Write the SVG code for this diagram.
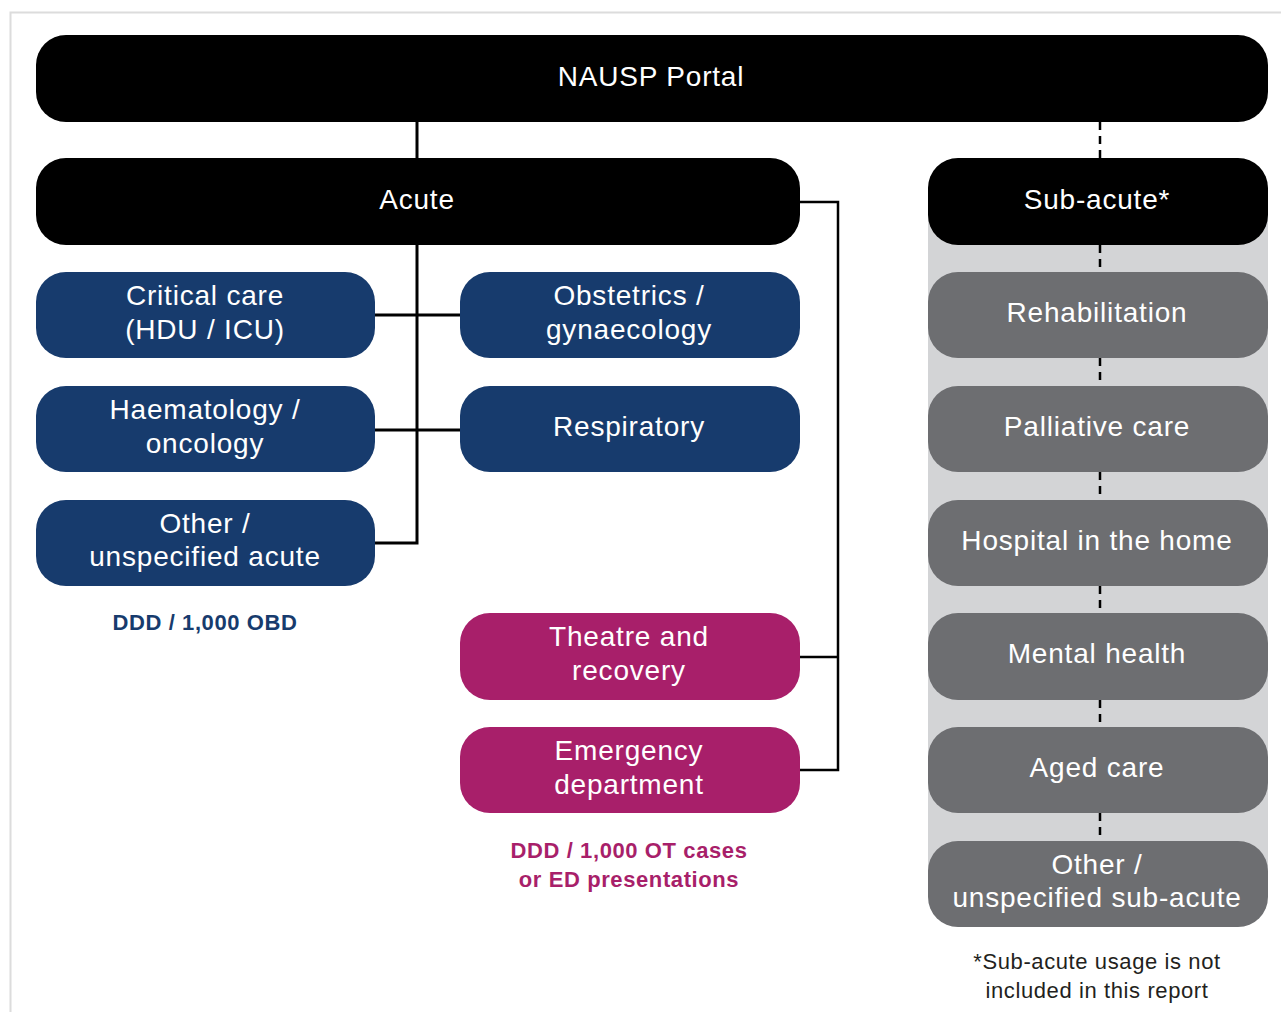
<svg xmlns="http://www.w3.org/2000/svg" width="1281" height="1012" viewBox="0 0 1281 1012">
  <style>
    .lbl { font-family: "Liberation Sans", Arial, sans-serif; font-size: 28px; letter-spacing: 0.8px; fill: #ffffff; text-anchor: middle; }
    .black { fill: #000000; }
    .blue { fill: #173b6d; }
    .mag { fill: #a81f6a; }
    .grey { fill: #6d6e71; }
    .solid { fill: none; stroke: #000; stroke-width: 3; }
    .thin { fill: none; stroke: #000; stroke-width: 2.5; }
    .dash { fill: none; stroke: #000; stroke-width: 2.5; stroke-dasharray: 8 6; }
    .note { font-family: "Liberation Sans", Arial, sans-serif; font-size: 22px; letter-spacing: 0.6px; text-anchor: middle; }
  </style>

  <rect width="1281" height="1012" fill="#ffffff"/>
  <!-- outer frame -->
  <rect x="10.5" y="12.5" width="1290" height="1020" fill="none" stroke="#dcdcdc" stroke-width="2"/>

  <!-- sub-acute background panel -->
  <rect x="928" y="200" width="340" height="684" fill="#d3d4d6"/>

  <g id="connectors">
    <!-- acute tree -->
    <path class="solid" d="M417 122 V158 M417 245 V543 H375 M375 315 H460 M375 430 H460"/>
    <!-- theatre / emergency branch -->
    <path class="thin" d="M800 202 H838 V770 H800 M838 657 H800"/>
    <!-- sub-acute chain -->
    <path class="dash" d="M1100 122 V158 M1100 245 V272 M1100 358 V386 M1100 472 V500 M1100 586 V613 M1100 700 V727 M1100 813 V841"/>
  </g>

  <g id="portal">
    <rect class="black" x="36" y="35" width="1232" height="87" rx="30"/>
    <text class="lbl" x="651" y="86">NAUSP Portal</text>
  </g>
  <g id="acute">
    <rect class="black" x="36" y="158" width="764" height="87" rx="30"/>
    <text class="lbl" x="417" y="209">Acute</text>
  </g>
  <g id="subacute">
    <rect class="black" x="928" y="158" width="340" height="87" rx="30"/>
    <text class="lbl" x="1097" y="209">Sub-acute*</text>
  </g>

  <g id="critical-care">
    <rect class="blue" x="36" y="272" width="339" height="86" rx="30"/>
    <text class="lbl" x="205" y="305">Critical care</text>
    <text class="lbl" x="205" y="339">(HDU / ICU)</text>
  </g>
  <g id="obstetrics">
    <rect class="blue" x="460" y="272" width="340" height="86" rx="30"/>
    <text class="lbl" x="629" y="305">Obstetrics /</text>
    <text class="lbl" x="629" y="339">gynaecology</text>
  </g>
  <g id="haematology">
    <rect class="blue" x="36" y="386" width="339" height="86" rx="30"/>
    <text class="lbl" x="205" y="419">Haematology /</text>
    <text class="lbl" x="205" y="453">oncology</text>
  </g>
  <g id="respiratory">
    <rect class="blue" x="460" y="386" width="340" height="86" rx="30"/>
    <text class="lbl" x="629" y="436">Respiratory</text>
  </g>
  <g id="other-acute">
    <rect class="blue" x="36" y="500" width="339" height="86" rx="30"/>
    <text class="lbl" x="205" y="533">Other /</text>
    <text class="lbl" x="205" y="566">unspecified acute</text>
  </g>
  <text class="note" x="205" y="630" fill="#173b6d" font-weight="bold">DDD / 1,000 OBD</text>

  <g id="theatre">
    <rect class="mag" x="460" y="613" width="340" height="87" rx="30"/>
    <text class="lbl" x="629" y="646">Theatre and</text>
    <text class="lbl" x="629" y="680">recovery</text>
  </g>
  <g id="emergency">
    <rect class="mag" x="460" y="727" width="340" height="86" rx="30"/>
    <text class="lbl" x="629" y="760">Emergency</text>
    <text class="lbl" x="629" y="794">department</text>
  </g>
  <text class="note" fill="#a81f6a" font-weight="bold"><tspan x="629" y="858">DDD / 1,000 OT cases</tspan><tspan x="629" y="887">or ED presentations</tspan></text>

  <g id="rehabilitation">
    <rect class="grey" x="928" y="272" width="340" height="86" rx="30"/>
    <text class="lbl" x="1097" y="322">Rehabilitation</text>
  </g>
  <g id="palliative">
    <rect class="grey" x="928" y="386" width="340" height="86" rx="30"/>
    <text class="lbl" x="1097" y="436">Palliative care</text>
  </g>
  <g id="hospital-home">
    <rect class="grey" x="928" y="500" width="340" height="86" rx="30"/>
    <text class="lbl" x="1097" y="550">Hospital in the home</text>
  </g>
  <g id="mental-health">
    <rect class="grey" x="928" y="613" width="340" height="87" rx="30"/>
    <text class="lbl" x="1097" y="663">Mental health</text>
  </g>
  <g id="aged-care">
    <rect class="grey" x="928" y="727" width="340" height="86" rx="30"/>
    <text class="lbl" x="1097" y="777">Aged care</text>
  </g>
  <g id="other-subacute">
    <rect class="grey" x="928" y="841" width="340" height="86" rx="30"/>
    <text class="lbl" x="1097" y="874">Other /</text>
    <text class="lbl" x="1097" y="907">unspecified sub-acute</text>
  </g>
  <text class="note" fill="#231f20"><tspan x="1097" y="969">*Sub-acute usage is not</tspan><tspan x="1097" y="998">included in this report</tspan></text>
</svg>
